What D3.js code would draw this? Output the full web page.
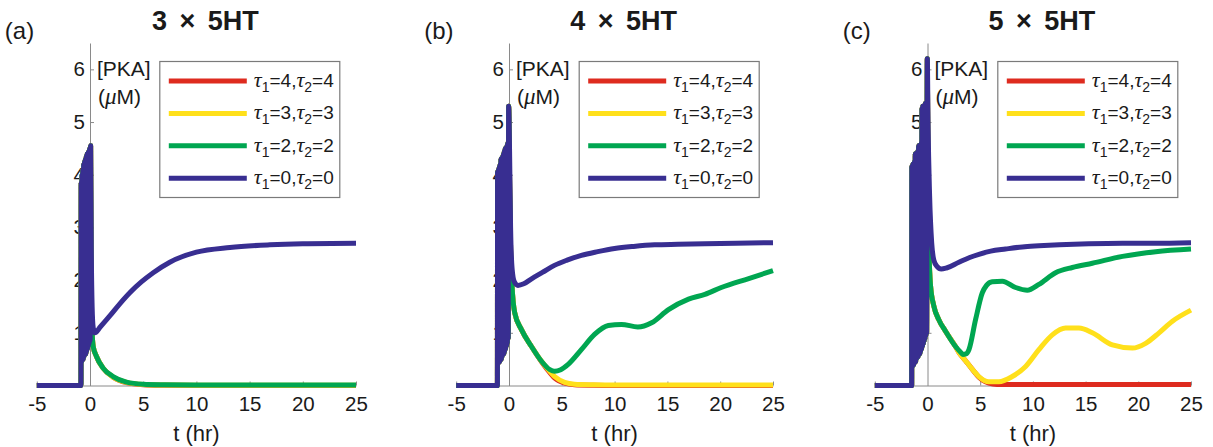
<!DOCTYPE html>
<html><head><meta charset="utf-8">
<script src="https://cdn.jsdelivr.net/npm/d3@7"></script>
<style>
body{margin:0;background:#fff}
svg{display:block}
text{font-family:"Liberation Sans", Arial, sans-serif;fill:#1a1a1a}
</style>
</head><body>
<svg id="chart" width="1213" height="447"></svg>
<script>
// ---------------- data ----------------
const xTicks = [-5, 0, 5, 10, 15, 20, 25];
const yTicks = [1, 2, 3, 4, 5, 6];
const panelLabels = ["(a)", "(b)", "(c)"];
const panelTitles = ["3 \u00d7 5HT", "4 \u00d7 5HT", "5 \u00d7 5HT"];
const seriesTau = [4, 3, 2, 0];           // legend order: red, yellow, green, blue
const xLabel = "t (hr)";
const yLabel1 = "[PKA]";
const yLabel2Pre = "(", yLabel2Mu = "\u03bc", yLabel2Post = "M)";

// panel (a) : 3 x 5HT
const aSpikeT = [-0.85,-0.83,-0.79,-0.75,-0.71,-0.67,-0.63,-0.59,-0.55,-0.51,-0.47,-0.43,-0.39,-0.35,-0.31,-0.27,-0.23,-0.19,-0.15,-0.11,-0.07,-0.03,0.01,0.06];
const aSpikeV = [0,3.85,0.45,4.0,0.5,4.1,0.5,4.2,0.55,4.25,0.6,4.3,0.6,4.35,0.65,4.4,0.7,4.42,0.75,4.45,0.8,4.5,0.85,4.55];
const aBlueT = [0.12,0.2,0.3,0.45,1.0,1.86,2.8,3.74,4.8,5.94,7.5,10,13.15,16.9,20,25];
const aBlueV = [2.6,1.5,1.1,1.0,1.12,1.32,1.55,1.76,1.96,2.14,2.34,2.53,2.62,2.67,2.69,2.70];
const aGreenT = [0.12,0.2,0.3,0.61,1.23,2.17,3.43,5,7,10,15,20,25];
const aGreenV = [1.4,1.0,0.74,0.55,0.33,0.17,0.065,0.025,0.015,0.01,0.01,0.01,0.01];
const aYellowT = [0.12,0.2,0.3,0.61,1.23,2.17,3.43,5,7,10,15,20,25];
const aYellowV = [1.4,1.0,0.74,0.55,0.33,0.16,0.06,0.02,0.01,0.005,0.005,0.005,0.005];
const aRedT = [0.12,0.2,0.3,0.61,1.23,2.17,3.43,5,7,10,15,20,25];
const aRedV = [1.4,1.0,0.74,0.55,0.33,0.16,0.055,0.015,0.005,0,0,0,0];

// panel (b) : 4 x 5HT
const bSpikeT = [-1.1,-1.08,-1.04,-1.0,-0.96,-0.92,-0.88,-0.84,-0.8,-0.76,-0.72,-0.68,-0.64,-0.6,-0.56,-0.52,-0.48,-0.44,-0.4,-0.36,-0.32,-0.28,-0.24,-0.2,-0.16,-0.12,-0.08,-0.03];
const bSpikeV = [0,4.05,0.4,4.1,0.45,4.15,0.45,4.2,0.5,4.3,0.5,4.3,0.55,4.35,0.6,4.4,0.6,4.45,0.65,4.5,0.7,4.5,0.75,4.55,0.8,4.6,0.9,5.3];
const bBlueT = [0.05,0.15,0.3,0.5,0.85,1.4,2.1,3.2,4.3,5.5,6.85,8.4,10,11.8,13.8,16,18.55,21.5,25];
const bBlueV = [4.5,3.0,2.2,1.97,1.9,1.93,2.02,2.15,2.28,2.38,2.47,2.54,2.6,2.64,2.67,2.68,2.69,2.7,2.71];
const bGreenT = [0.05,0.15,0.28,0.54,1.18,2.13,3.08,3.87,4.33,4.9,5.6,6.85,8.1,9.4,10.65,12.2,13.5,15.1,17.0,18.55,20.1,22.7,25];
const bGreenV = [4.0,2.6,1.92,1.38,1.06,0.74,0.46,0.30,0.27,0.30,0.40,0.68,0.97,1.14,1.16,1.11,1.19,1.44,1.64,1.73,1.86,2.03,2.18];
const bYellowT = [0.05,0.15,0.28,0.54,1.18,2.13,3.08,3.6,4.33,5.27,6.2,8,10,15,20,25];
const bYellowV = [4.0,2.6,1.92,1.38,1.06,0.74,0.46,0.33,0.17,0.06,0.025,0.015,0.01,0.01,0.01,0.01];
const bRedT = [0.05,0.15,0.28,0.54,1.18,2.13,3.08,3.6,4.33,5.27,6.2,8,10,15,20,25];
const bRedV = [4.0,2.6,1.92,1.38,1.06,0.74,0.45,0.31,0.14,0.045,0.015,0.005,0,0,0,0];

// panel (c) : 5 x 5HT
const cSpikeT = [-1.5,-1.48,-1.44,-1.4,-1.36,-1.32,-1.28,-1.24,-1.2,-1.16,-1.12,-1.08,-1.04,-1.0,-0.96,-0.92,-0.88,-0.84,-0.8,-0.76,-0.72,-0.68,-0.64,-0.6,-0.56,-0.52,-0.48,-0.44,-0.4,-0.36,-0.32,-0.28,-0.24,-0.2,-0.16,-0.12,-0.08,-0.02];
const cSpikeV = [0,4.15,0.35,4.2,0.4,4.2,0.4,4.25,0.45,4.4,0.45,4.4,0.5,4.42,0.55,4.45,0.55,4.55,0.6,4.55,0.6,4.56,0.65,4.6,0.7,5.25,0.75,5.3,0.8,5.3,0.85,5.32,0.9,5.35,0.95,5.35,1.0,6.2];
const cBlueT = [0.05,0.2,0.4,0.6,0.9,1.3,1.8,2.98,4.0,4.88,6.0,7.4,9.0,10.57,12.5,15.3,18.5,21.5,25];
const cBlueV = [5.0,3.6,2.7,2.38,2.26,2.21,2.23,2.34,2.43,2.49,2.55,2.59,2.63,2.65,2.67,2.69,2.7,2.7,2.71];
const cGreenT = [0.05,0.15,0.29,0.6,1.07,1.71,2.66,3.1,3.36,3.65,3.93,4.56,5.2,5.6,6.14,7.1,8.36,9.47,10.57,12.15,13.74,15.64,18.5,21.65,25];
const cGreenV = [4.0,2.5,1.89,1.51,1.25,1.03,0.74,0.64,0.59,0.6,0.68,1.25,1.76,1.9,1.97,1.98,1.86,1.81,1.92,2.14,2.24,2.32,2.45,2.54,2.59];
const cYellowT = [0.05,0.15,0.29,0.6,1.07,1.71,2.66,2.98,3.61,4.24,4.87,5.82,6.77,8.04,9.31,10.57,11.84,13.1,14.37,15.64,17.54,19.44,20.7,21.97,23.24,25];
const cYellowV = [4.0,2.5,1.89,1.51,1.25,1.03,0.74,0.63,0.47,0.31,0.17,0.07,0.07,0.17,0.36,0.68,0.96,1.09,1.09,1.0,0.77,0.71,0.8,1.0,1.22,1.43];
const cRedT = [0.05,0.15,0.29,0.6,1.07,1.71,2.66,2.98,3.61,4.24,4.87,5.5,6.2,7,8,10,15,20,25];
const cRedV = [4.0,2.5,1.89,1.51,1.25,1.03,0.74,0.63,0.47,0.31,0.16,0.07,0.03,0.02,0.02,0.02,0.02,0.02,0.02];

// ---------------- styles / layout ----------------
const colors = ["#de2b1f", "#ffe01b", "#00a651", "#382e91"];
const xRanges = [[36.8, 356], [456.2, 773], [874.8, 1191]];
const yDomainMax = 6.5;

const panels = [
  {spikeT: aSpikeT, spikeV: aSpikeV, post: [[aRedT, aRedV], [aYellowT, aYellowV], [aGreenT, aGreenV], [aBlueT, aBlueV]]},
  {spikeT: bSpikeT, spikeV: bSpikeV, post: [[bRedT, bRedV], [bYellowT, bYellowV], [bGreenT, bGreenV], [bBlueT, bBlueV]]},
  {spikeT: cSpikeT, spikeV: cSpikeV, post: [[cRedT, cRedV], [cYellowT, cYellowV], [cGreenT, cGreenV], [cBlueT, cBlueV]]}
];

const svg = d3.select("#chart");
const y = d3.scaleLinear().domain([0, yDomainMax]).range([385.5, 43]);
const axisColor = "#8a8a8a";
const FONT = "Liberation Sans, Arial, sans-serif";

panels.forEach((p, i) => {
  const x = d3.scaleLinear().domain([xTicks[0], xTicks[xTicks.length - 1]]).range(xRanges[i]);
  const g = svg.append("g");
  const left = x(xTicks[0]);

  // panel label and title
  g.append("text").attr("x", left - 32).attr("y", 39).attr("font-size", 24).text(panelLabels[i]);
  g.append("text").attr("x", x(10) + 9).attr("y", 30).attr("text-anchor", "middle")
    .attr("font-size", 27).attr("font-weight", "bold").attr("word-spacing", "5px").text(panelTitles[i]);

  // x axis at y = 0
  const xa = g.append("g").attr("transform", `translate(0,${y(0)})`)
    .call(d3.axisBottom(x).tickValues(xTicks).tickSizeInner(-4).tickSizeOuter(0).tickPadding(11).tickFormat(d => String(d)));
  xa.select(".domain").attr("stroke", axisColor);
  xa.selectAll(".tick line").attr("stroke", axisColor);
  xa.selectAll("text").attr("font-size", 20.5).attr("fill", "#1a1a1a").style("font-family", FONT);
  xa.selectAll(".tick").filter(d => d === 0).select("line").remove();

  // y axis at x = 0
  const ya = g.append("g").attr("transform", `translate(${x(0)},0)`)
    .call(d3.axisLeft(y).tickValues(yTicks).tickSizeInner(-4).tickSizeOuter(0).tickPadding(5).tickFormat(d => String(d)));
  ya.select(".domain").attr("stroke", axisColor);
  ya.selectAll(".tick line").attr("stroke", axisColor);
  ya.selectAll("text").attr("font-size", 20.5).attr("fill", "#1a1a1a").style("font-family", FONT);

  // y label
  g.append("text").attr("x", x(0) + 7).attr("y", 76).attr("font-size", 21).text(yLabel1);
  const yl2 = g.append("text").attr("x", x(0) + 8).attr("y", 104).attr("font-size", 21);
  yl2.append("tspan").text(yLabel2Pre);
  yl2.append("tspan").attr("font-style", "italic").style("font-family", "Liberation Serif, serif").attr("font-size", 23).text(yLabel2Mu);
  yl2.append("tspan").text(yLabel2Post);

  // x label
  g.append("text").attr("x", x(10)).attr("y", 441).attr("text-anchor", "middle").attr("font-size", 22).text(xLabel);

  // data lines
  const line = d3.line().x(d => x(d[0])).y(d => y(d[1])).curve(d3.curveMonotoneX);
  p.post.forEach((s, k) => {
    const ts = [xTicks[0]].concat(p.spikeT, s[0]);
    const vs = [0].concat(p.spikeV, s[1]);
    const pts = ts.map((t, j) => [t, vs[j]]);
    g.append("path").attr("d", line(pts)).attr("fill", "none")
      .attr("stroke", colors[k]).attr("stroke-width", 5)
      .attr("stroke-linejoin", "round").attr("stroke-linecap", "butt");
  });

  // legend
  const lg = g.append("g").attr("transform", `translate(${left + 123},61.5)`);
  lg.append("rect").attr("x", 0).attr("y", 0).attr("width", 180).attr("height", 136)
    .attr("fill", "#fff").attr("stroke", "#7a7a7a").attr("stroke-width", 1.2);
  seriesTau.forEach((tau, k) => {
    const ry = 19.5 + k * 32.4;
    lg.append("line").attr("x1", 9).attr("x2", 87).attr("y1", ry).attr("y2", ry)
      .attr("stroke", colors[k]).attr("stroke-width", 5);
    const t = lg.append("text").attr("x", 94).attr("y", ry + 6).attr("font-size", 19);
    t.append("tspan").attr("font-style", "italic").style("font-family", "Liberation Serif, serif").attr("font-size", 22).text("\u03c4");
    t.append("tspan").attr("font-size", 14).attr("dy", 5).text("1");
    t.append("tspan").attr("dy", -5).text("=" + tau + ",");
    t.append("tspan").attr("font-style", "italic").style("font-family", "Liberation Serif, serif").attr("font-size", 22).text("\u03c4");
    t.append("tspan").attr("font-size", 14).attr("dy", 5).text("2");
    t.append("tspan").attr("dy", -5).text("=" + tau);
  });
});
</script>
</body></html>
